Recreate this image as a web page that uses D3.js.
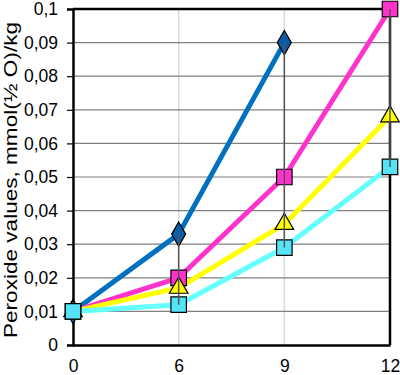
<!DOCTYPE html>
<html>
<head>
<meta charset="utf-8">
<script src="https://cdn.jsdelivr.net/npm/d3@7"></script>
<style>
  body { margin: 0; background: #fff; }
  text { font-family: "Liberation Sans", Arial, sans-serif; fill: #000; }
</style>
</head>
<body>
<div id="chart"></div>
<script>
// data
var days = ["0", "6", "9", "12"];
var blueVals = [0.01, 0.033, 0.09, null];
var magentaVals = [0.01, 0.02, 0.05, 0.1];
var yellowVals = [0.01, 0.017, 0.036, 0.068];
var cyanVals = [0.01, 0.012, 0.029, 0.053];
var yTicks = [0, 0.01, 0.02, 0.03, 0.04, 0.05, 0.06, 0.07, 0.08, 0.09, 0.1];

var svgWidth = 400;
var svgHeight = 375;

var margin = { top: 9, bottom: 30, left: 73, right: 10 };
var width = svgWidth - margin.left - margin.right;
var height = svgHeight - margin.top - margin.bottom;

var series = [
  { vals: blueVals, line: "#0070C0", fill: "#0B5DA8", shape: d3.symbolDiamond, size: 170 },
  { vals: magentaVals, line: "#FF33CC", fill: "#FF33CC", shape: d3.symbolSquare, size: 240 },
  { vals: yellowVals, line: "#FFFF00", fill: "#FFFF00", shape: d3.symbolTriangle, size: 150 },
  { vals: cyanVals, line: "#66FFFF", fill: "#55E4F7", shape: d3.symbolSquare, size: 240 }
];

var svg = d3.select("#chart")
  .append("svg")
  .attr("width", svgWidth)
  .attr("height", svgHeight);

var chartGroup = svg.append("g")
  .attr("transform", `translate(${margin.left}, ${margin.top})`);

var xScale = d3.scalePoint()
  .domain(days)
  .range([0, width]);

var yScale = d3.scaleLinear()
  .domain([0, 0.1])
  .range([height, 0]);

// vertical gridlines (light)
chartGroup.selectAll(".vgrid")
  .data(days.slice(1, 3))
  .enter()
  .append("line")
  .attr("x1", d => xScale(d))
  .attr("x2", d => xScale(d))
  .attr("y1", 0)
  .attr("y2", height)
  .attr("stroke", "#d9d9d9")
  .attr("stroke-width", 1.5);

// horizontal gridlines
chartGroup.selectAll(".hgrid")
  .data(yTicks.slice(1, -1))
  .enter()
  .append("line")
  .attr("x1", 0)
  .attr("x2", width)
  .attr("y1", d => yScale(d))
  .attr("y2", d => yScale(d))
  .attr("stroke", "#808080")
  .attr("stroke-width", 1.2);

// frame top and right
chartGroup.append("path")
  .attr("d", `M0,0H${width}V${height}`)
  .attr("fill", "none")
  .attr("stroke", "#000")
  .attr("stroke-width", 2.5);

// axes
var yAxis = d3.axisLeft(yScale)
  .tickValues(yTicks)
  .tickSize(6)
  .tickPadding(9)
  .tickFormat(d => d3.format(".2~f")(d).replace(".", ","));

var yg = chartGroup.append("g").call(yAxis);
yg.select(".domain").attr("stroke", "#000").attr("stroke-width", 2.5);
yg.selectAll(".tick line").attr("stroke", "#000").attr("stroke-width", 1.2);
yg.selectAll("text").style("font-size", "17.5px").style("font-family", "Liberation Sans, Arial, sans-serif");

var xAxis = d3.axisBottom(xScale)
  .tickSize(0)
  .tickPadding(15);

var xg = chartGroup.append("g")
  .attr("transform", `translate(0, ${height})`)
  .call(xAxis);
xg.select(".domain").attr("stroke", "#000").attr("stroke-width", 2.5);
xg.selectAll("text").style("font-size", "17.5px").style("font-family", "Liberation Sans, Arial, sans-serif");

// lines and markers
var line = d3.line()
  .defined(d => d.v != null)
  .x(d => xScale(d.day))
  .y(d => yScale(d.v));

series.forEach(s => {
  var pts = days.map((day, i) => ({ day: day, v: s.vals[i] }));
  chartGroup.append("path")
    .datum(pts)
    .attr("d", line)
    .attr("fill", "none")
    .attr("stroke", s.line)
    .attr("stroke-width", 5)
    .attr("stroke-linejoin", "round");
});

series.forEach(s => {
  var pts = days.map((day, i) => ({ day: day, v: s.vals[i] })).filter(d => d.v != null);
  chartGroup.selectAll(null)
    .data(pts)
    .enter()
    .append("path")
    .attr("transform", d => `translate(${xScale(d.day)}, ${yScale(d.v)})`)
    .attr("d", d3.symbol().type(s.shape).size(s.size))
    .attr("fill", s.fill)
    .attr("stroke", "#000")
    .attr("stroke-width", 1.2);
});

// high-low lines
chartGroup.selectAll(".hilo")
  .data(days)
  .enter()
  .append("line")
  .attr("x1", d => xScale(d))
  .attr("x2", d => xScale(d))
  .attr("y1", (d, i) => yScale(d3.max(series, s => s.vals[i])))
  .attr("y2", (d, i) => yScale(d3.min(series, s => s.vals[i])))
  .attr("stroke", "#555")
  .attr("stroke-width", 1.5);

// axis title
svg.append("text")
  .attr("transform", "translate(17, 180) rotate(-90)")
  .attr("text-anchor", "middle")
  .attr("textLength", 316)
  .attr("lengthAdjust", "spacingAndGlyphs")
  .style("font-size", "18px")
  .text("Peroxide values, mmol(\u00BD O)/kg");
</script>
</body>
</html>
